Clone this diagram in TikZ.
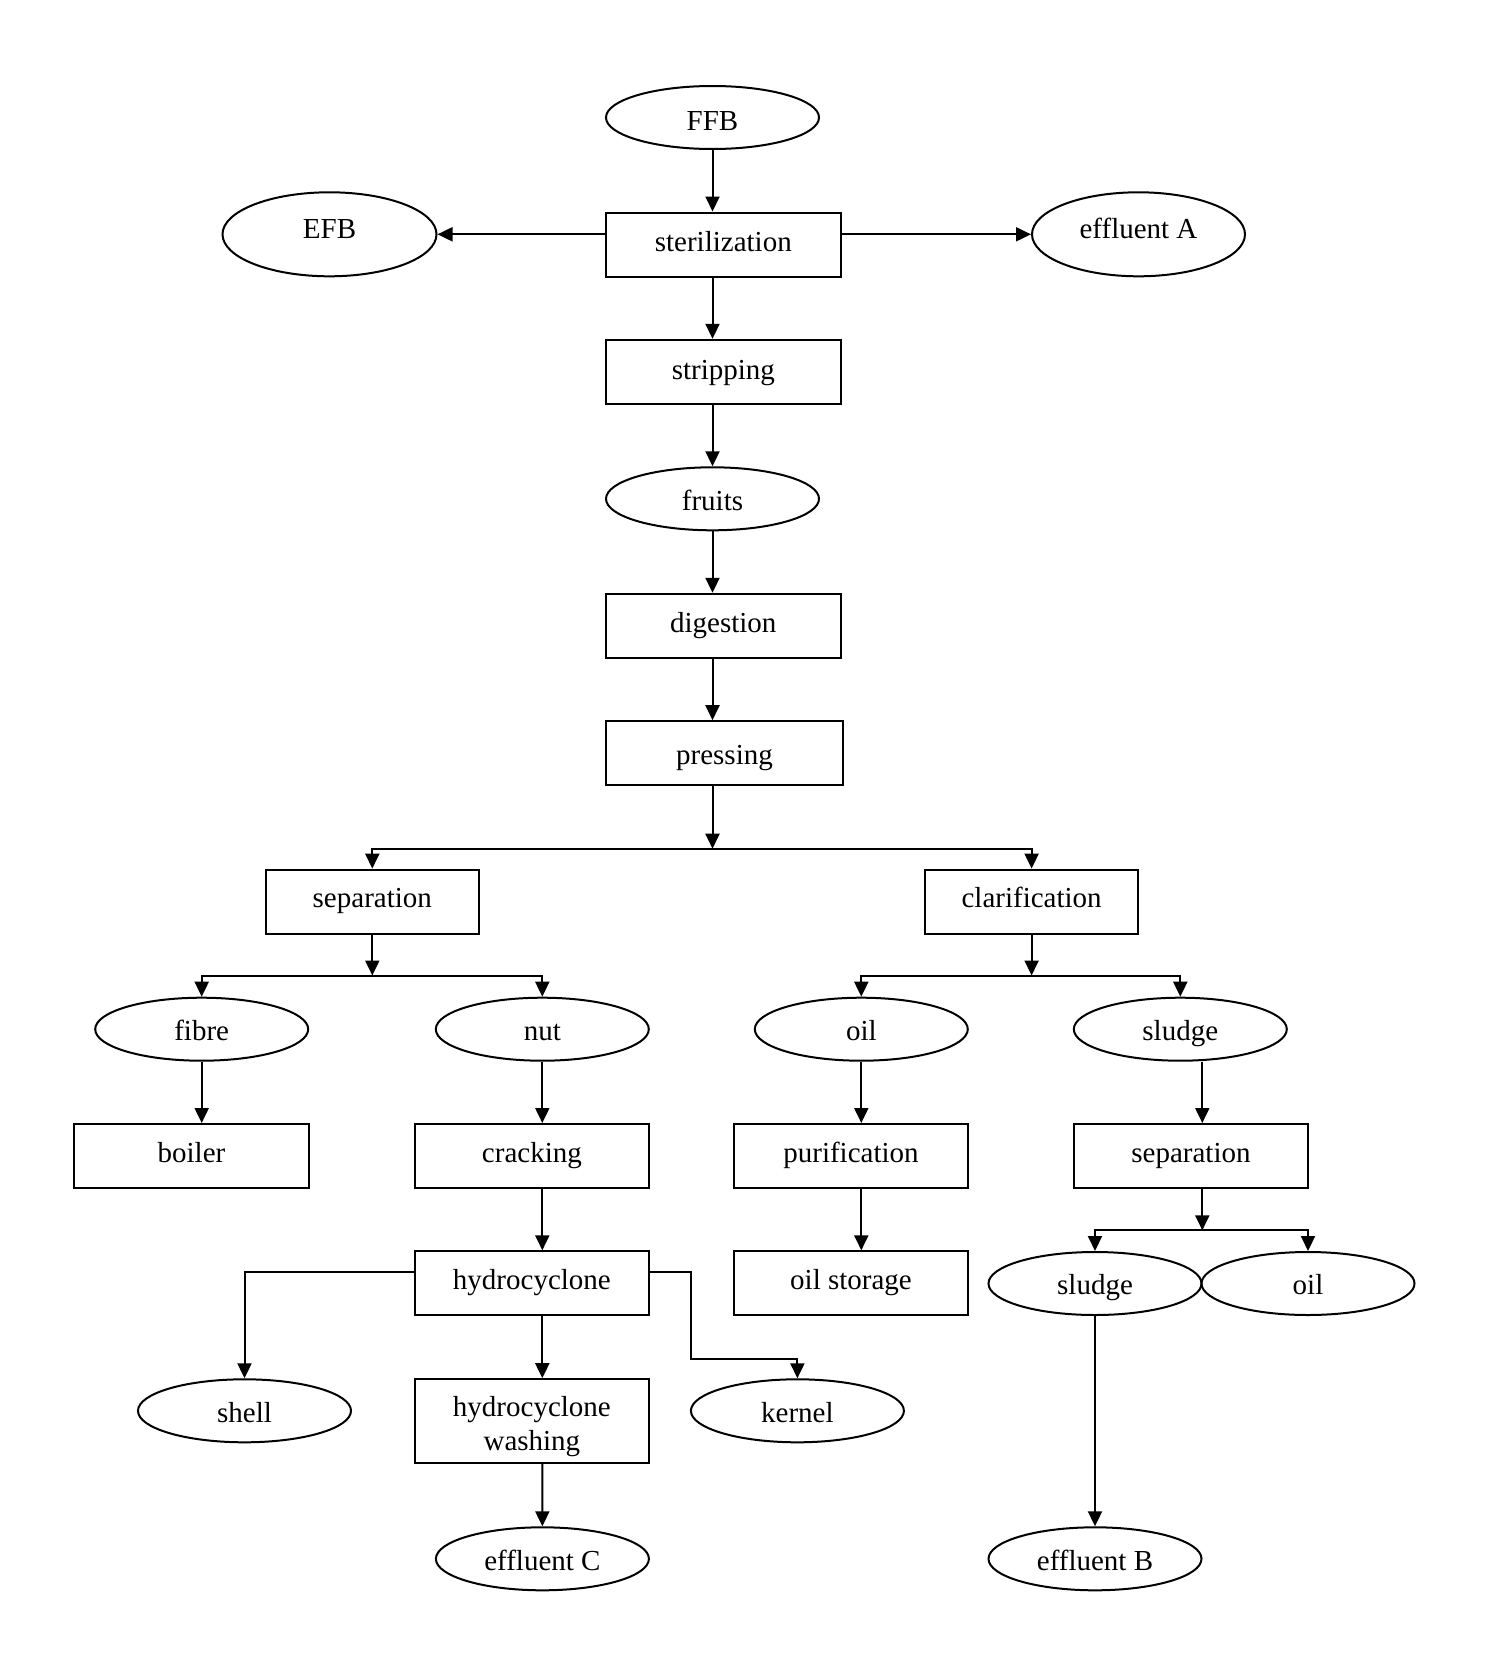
\documentclass[tikz,border=0pt]{standalone}
\usepackage{fontspec}
\setmainfont{Liberation Serif}
\usetikzlibrary{shapes.geometric,arrows.meta}
\begin{document}
\begin{tikzpicture}[x=1pt,y=-1pt,
  every node/.style={font=\fontsize{29}{32}\selectfont, inner sep=0pt, line width=2pt},
  pbox/.style={draw, rectangle, minimum width=234pt, minimum height=64pt, text height=20pt, text depth=8pt},
  oval/.style={draw, ellipse, minimum width=213pt, minimum height=63pt, text height=23pt, text depth=0pt},
  bigoval/.style={oval, minimum height=84pt, text height=18pt, text depth=10pt},
  twobox/.style={draw, rectangle, minimum width=234pt, minimum height=84pt, align=center, font=\fontsize{29}{33.3}\selectfont},
  arr/.style={line width=2pt, -{Triangle[length=15pt,width=14pt]}}]
\useasboundingbox[fill=white] (0,0) rectangle (1487,1678);
% nodes
\node[oval, text height=25pt] (FFB) at (712.5,117.5) {FFB};
\node[pbox, minimum width=235pt, text height=21pt] (ster) at (723.3,244.5) {sterilization};
\node[bigoval, minimum width=214pt] (EFB) at (329.5,234.3) {EFB};
\node[bigoval] (effA) at (1138.5,234.3) {effluent A};
\node[pbox, minimum width=235pt, text height=20pt, text depth=4pt] (strip) at (723.3,371.8) {stripping};
\node[oval] (fruits) at (712.5,498.8) {fruits};
\node[pbox, minimum width=235pt, text depth=6pt] (dig) at (723.3,625.8) {digestion};
\node[pbox, minimum width=237pt, text height=22pt, text depth=0pt] (press) at (724.5,753.2) {pressing};
\coordinate (j1) at (712.5,848.7);
\node[pbox, minimum width=213.5pt] (sep1) at (372.3,901.6) {separation};
\node[pbox, minimum width=213pt] (clar) at (1031.6,901.6) {clarification};
\coordinate (j2) at (372.3,975.5);
\coordinate (j3) at (1031.6,975.5);
\node[oval] (fibre) at (201.7,1029.2) {fibre};
\node[oval] (nut) at (542.3,1029.2) {nut};
\node[oval] (oil) at (861.3,1029.2) {oil};
\node[oval] (sludge) at (1180.3,1029.2) {sludge};
\node[pbox, minimum width=235pt] (boiler) at (191.5,1156) {boiler};
\node[pbox] (crack) at (531.9,1156) {cracking};
\node[pbox] (puri) at (851,1156) {purification};
\node[pbox] (sep2) at (1191,1156) {separation};
\node[pbox] (hydro) at (531.9,1283.3) {hydrocyclone};
\node[pbox] (store) at (851,1283.3) {oil storage};
\coordinate (j4) at (1202.3,1230.3);
\node[oval, text height=21pt] (sludge2) at (1095,1283.5) {sludge};
\node[oval, text height=21pt] (oil2) at (1308,1283.5) {oil};
\node[oval] (shell) at (244.5,1410.8) {shell};
\node[twobox] (wash) at (531.9,1421.2) {\rule{0pt}{30.6pt}hydrocyclone\\washing};
\coordinate (k1) at (691,1358.6);
\node[oval] (kernel) at (797.4,1410.8) {kernel};
\node[oval] (effC) at (542.4,1558.8) {effluent C};
\node[oval] (effB) at (1095,1558.8) {effluent B};
% connectors
\draw[arr] (FFB) -- (FFB |- ster.north);
\draw[arr] (ster.west |- EFB) -- (EFB);
\draw[arr] (ster.east |- effA) -- (effA);
\draw[arr] (FFB |- ster.south) -- (FFB |- strip.north);
\draw[arr] (fruits |- strip.south) -- (fruits);
\draw[arr] (fruits) -- (fruits |- dig.north);
\draw[arr] (fruits |- dig.south) -- (fruits |- press.north);
\draw[arr] (j1 |- press.south) -- (j1);
\draw[arr] (j1) -| (sep1.north);
\draw[arr] (j1) -| (clar.north);
\draw[arr] (sep1.south) -- (j2);
\draw[arr] (j2) -| (fibre);
\draw[arr] (j2) -| (nut);
\draw[arr] (clar.south) -- (j3);
\draw[arr] (j3) -| (oil);
\draw[arr] (j3) -| (sludge);
\draw[arr] (fibre) -- (fibre |- boiler.north);
\draw[arr] (nut) -- (nut |- crack.north);
\draw[arr] (nut |- crack.south) -- (nut |- hydro.north);
\draw[arr] (nut |- hydro.south) -- (nut |- wash.north);
\draw[arr] (nut |- wash.south) -- (effC);
\draw[arr] ([yshift=11.3pt]hydro.west) -| (shell);
\draw[arr] ([yshift=11.3pt]hydro.east) -| (k1) -| (kernel);
\draw[arr] (oil) -- (oil |- puri.north);
\draw[arr] (oil |- puri.south) -- (oil |- store.north);
\draw[arr] (j4 |- sludge.south) -- (j4 |- sep2.north);
\draw[arr] (j4 |- sep2.south) -- (j4);
\draw[arr] (j4) -| (sludge2);
\draw[arr] (j4) -| (oil2);
\draw[arr] (sludge2) -- (effB);
\end{tikzpicture}
\end{document}
